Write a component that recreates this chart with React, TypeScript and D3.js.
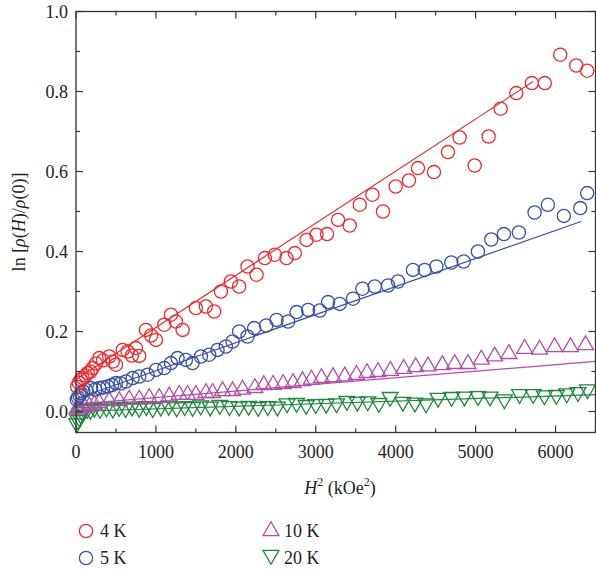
import React from 'react';
import * as d3 from 'd3';

// ---------- data ----------
const seriesNames = ['4 K', '5 K', '10 K', '20 K'];

const redX = [15, 35, 60, 84, 120, 146, 180, 209, 250, 291, 340, 416, 460, 500, 584, 646, 700, 750, 791, 875, 940, 1000, 1104, 1188, 1250, 1334, 1500, 1625, 1729, 1813, 1938, 2041, 2146, 2259, 2363, 2488, 2634, 2738, 2884, 3009, 3141, 3279, 3425, 3550, 3709, 3841, 4000, 4166, 4279, 4479, 4654, 4800, 4988, 5163, 5313, 5509, 5704, 5866, 6059, 6259, 6396];
const redY = [0.062, 0.072, 0.08, 0.0835, 0.09, 0.096, 0.1, 0.1085, 0.12, 0.1335, 0.128, 0.1375, 0.125, 0.117, 0.154, 0.15, 0.14, 0.1585, 0.139, 0.204, 0.19, 0.179, 0.217, 0.242, 0.225, 0.204, 0.2585, 0.2625, 0.25, 0.3, 0.325, 0.3125, 0.3625, 0.342, 0.3835, 0.392, 0.3835, 0.396, 0.429, 0.442, 0.4435, 0.479, 0.465, 0.517, 0.542, 0.5, 0.5625, 0.5775, 0.6085, 0.5985, 0.6485, 0.685, 0.615, 0.6875, 0.757, 0.796, 0.821, 0.821, 0.892, 0.865, 0.852];

const blueX = [10, 25, 45, 63, 90, 125, 188, 240, 291, 340, 396, 450, 500, 560, 625, 709, 791, 896, 1000, 1104, 1188, 1271, 1375, 1459, 1563, 1666, 1771, 1875, 1959, 2041, 2146, 2229, 2380, 2509, 2654, 2759, 2904, 3050, 3154, 3300, 3466, 3584, 3738, 3904, 4029, 4216, 4363, 4509, 4696, 4850, 5029, 5196, 5354, 5541, 5738, 5904, 6104, 6309, 6396];
const blueY = [0.03, 0.035, 0.04, 0.046, 0.05, 0.054, 0.0585, 0.055, 0.0585, 0.06, 0.0625, 0.066, 0.071, 0.07, 0.075, 0.0835, 0.0875, 0.092, 0.104, 0.1085, 0.121, 0.1335, 0.129, 0.121, 0.1375, 0.142, 0.154, 0.1625, 0.175, 0.2, 0.1875, 0.2085, 0.215, 0.229, 0.225, 0.2485, 0.254, 0.2525, 0.2735, 0.269, 0.282, 0.307, 0.3125, 0.315, 0.325, 0.354, 0.354, 0.3625, 0.3725, 0.375, 0.4, 0.43, 0.4435, 0.4475, 0.4975, 0.5167, 0.489, 0.5085, 0.546];

const magX = [10, 25, 42, 104, 167, 229, 291, 416, 541, 666, 791, 916, 1041, 1166, 1291, 1396, 1500, 1625, 1709, 1834, 1959, 2084, 2238, 2350, 2466, 2591, 2716, 2834, 2946, 3071, 3216, 3363, 3509, 3641, 3779, 3934, 4100, 4250, 4404, 4584, 4738, 4904, 5071, 5238, 5416, 5613, 5800, 5988, 6188, 6375];
const magY = [0.005, 0.008, 0.009, 0.0115, 0.013, 0.017, 0.0215, 0.026, 0.026, 0.03, 0.03, 0.034, 0.034, 0.038, 0.042, 0.042, 0.042, 0.0465, 0.0465, 0.051, 0.051, 0.055, 0.059, 0.066, 0.067, 0.069, 0.0715, 0.076, 0.08, 0.084, 0.086, 0.088, 0.092, 0.0965, 0.099, 0.102, 0.107, 0.111, 0.113, 0.116, 0.119, 0.119, 0.13, 0.138, 0.144, 0.157, 0.155, 0.161, 0.161, 0.166];

const grnX = [10, 25, 40, 60, 80, 105, 140, 180, 230, 300, 380, 460, 540, 620, 700, 790, 880, 960, 1060, 1160, 1260, 1360, 1460, 1560, 1680, 1800, 1920, 2040, 2160, 2280, 2400, 2520, 2640, 2760, 2880, 3000, 3130, 3260, 3390, 3520, 3650, 3790, 3930, 4090, 4240, 4380, 4530, 4700, 4860, 5030, 5180, 5360, 5550, 5720, 5860, 6010, 6140, 6280, 6400];
const grnY = [-0.03, -0.022, -0.015, -0.008, -0.002, 0.003, 0.006, 0.004, 0.009, 0.006, 0.01, 0.007, 0.011, 0.008, 0.012, 0.009, 0.013, 0.008, 0.012, 0.014, 0.01, 0.013, 0.011, 0.015, 0.012, 0.016, 0.013, 0.012, 0.014, 0.011, 0.013, 0.012, 0.02, 0.021, 0.016, 0.018, 0.019, 0.02, 0.026, 0.024, 0.025, 0.021, 0.036, 0.024, 0.022, 0.02, 0.034, 0.036, 0.037, 0.038, 0.037, 0.03, 0.043, 0.043, 0.04, 0.041, 0.045, 0.048, 0.055];

// linear fits (endpoints)
const redFitX = [0, 5720];
const redFitY = [0.08, 0.825];
const blueFitX = [0, 6320];
const blueFitY = [0.032, 0.475];
const magFitX = [0, 6500];
const magFitY = [0.0186, 0.1252];
const grnFitX = [0, 6500];
const grnFitY = [0.0, 0.042];

const xMajor = [0, 1000, 2000, 3000, 4000, 5000, 6000];
const xMinor = [500, 1500, 2500, 3500, 4500, 5500, 6500];
const yMajor = [0, 0.2, 0.4, 0.6, 0.8, 1.0];
const yMinor = [0.1, 0.3, 0.5, 0.7, 0.9];

// ---------- layout ----------
const W = 596;
const H = 570;
const left = 76;
const right = 595.5;
const top = 11.5;
const bottom = 432.5;

const RED = '#ee2b2e';
const BLUE = '#3a52a3';
const MAG = '#b24ea8';
const GRN = '#21873b';
const AX = '#333';
const FONT = '"Liberation Serif", "DejaVu Serif", serif';

export default function App() {
  const x = d3.scaleLinear().domain([0, 6500]).range([left, right]);
  const y = d3.scaleLinear().domain([-0.0525, 1.0]).range([bottom, top]);

  const triUp = d3.symbol(d3.symbolTriangle).size(110)() as string;

  const fitLine = (xs: number[], ys: number[]) =>
    d3.line<number>().x((_, i) => x(xs[i])).y((v) => y(v))(ys) as string;

  const circles = (xs: number[], ys: number[], color: string) =>
    xs.map((v, i) => (
      <circle key={i} cx={x(v)} cy={y(ys[i])} r={6.6} fill="none" stroke={color} strokeWidth={1.3} />
    ));
  const tris = (xs: number[], ys: number[], color: string, down: boolean) =>
    xs.map((v, i) => (
      <path
        key={i}
        d={triUp}
        transform={`translate(${x(v)},${y(ys[i])})${down ? ' rotate(180)' : ''}`}
        fill="none"
        stroke={color}
        strokeWidth={1.3}
      />
    ));

  const majLen = 7;
  const minLen = 4;

  return (
    <svg width={W} height={H} style={{ position: 'absolute', left: 0, top: 0, background: '#fff' }} fontFamily={FONT}>
      <rect x={0} y={0} width={W} height={H} fill="#fff" />
      {/* fit lines */}
      <path d={fitLine(grnFitX, grnFitY)} fill="none" stroke={GRN} strokeWidth={1.2} />
      <path d={fitLine(magFitX, magFitY)} fill="none" stroke={MAG} strokeWidth={1.2} />
      <path d={fitLine(blueFitX, blueFitY)} fill="none" stroke={BLUE} strokeWidth={1.2} />
      <path d={fitLine(redFitX, redFitY)} fill="none" stroke={RED} strokeWidth={1.2} />

      {/* markers */}
      <g>{tris(grnX, grnY, GRN, true)}</g>
      <g>{tris(magX, magY, MAG, false)}</g>
      <g>{circles(blueX, blueY, BLUE)}</g>
      <g>{circles(redX, redY, RED)}</g>

      {/* frame */}
      <rect x={left} y={top} width={right - left} height={bottom - top} fill="none" stroke={AX} strokeWidth={1.3} />

      {/* x ticks */}
      {xMajor.map((v) => (
        <g key={'xm' + v}>
          <line x1={x(v)} x2={x(v)} y1={bottom} y2={bottom - majLen} stroke={AX} strokeWidth={1.2} />
          <line x1={x(v)} x2={x(v)} y1={top} y2={top + majLen} stroke={AX} strokeWidth={1.2} />
          <text x={x(v)} y={458} textAnchor="middle" fontSize={18} fill="#222">
            {v}
          </text>
        </g>
      ))}
      {xMinor.map((v) => (
        <g key={'xn' + v}>
          <line x1={x(v)} x2={x(v)} y1={bottom} y2={bottom - minLen} stroke={AX} strokeWidth={1.2} />
          <line x1={x(v)} x2={x(v)} y1={top} y2={top + minLen} stroke={AX} strokeWidth={1.2} />
        </g>
      ))}
      {/* y ticks */}
      {yMajor.map((v) => (
        <g key={'ym' + v}>
          <line x1={left} x2={left + majLen} y1={y(v)} y2={y(v)} stroke={AX} strokeWidth={1.2} />
          <line x1={right} x2={right - majLen} y1={y(v)} y2={y(v)} stroke={AX} strokeWidth={1.2} />
          <text x={68} y={y(v) + 6} textAnchor="end" fontSize={18} fill="#222">
            {d3.format('.1f')(v)}
          </text>
        </g>
      ))}
      {yMinor.map((v) => (
        <g key={'yn' + v}>
          <line x1={left} x2={left + minLen} y1={y(v)} y2={y(v)} stroke={AX} strokeWidth={1.2} />
          <line x1={right} x2={right - minLen} y1={y(v)} y2={y(v)} stroke={AX} strokeWidth={1.2} />
        </g>
      ))}

      {/* axis titles */}
      <text x={340} y={494} textAnchor="middle" fontSize={18} fill="#222">
        <tspan fontStyle="italic">H</tspan>
        <tspan fontSize={12} dy={-8}>2</tspan>
        <tspan dy={8}> (kOe</tspan>
        <tspan fontSize={12} dy={-8}>2</tspan>
        <tspan dy={8}>)</tspan>
      </text>
      <text transform="translate(25,222) rotate(-90)" textAnchor="middle" fontSize={18} fill="#222">
        <tspan>ln [</tspan>
        <tspan fontStyle="italic">ρ</tspan>
        <tspan>(</tspan>
        <tspan fontStyle="italic">H</tspan>
        <tspan>)/</tspan>
        <tspan fontStyle="italic">ρ</tspan>
        <tspan>(0)]</tspan>
      </text>

      {/* legend */}
      <g>
        <circle cx={86} cy={531} r={6.6} fill="none" stroke={RED} strokeWidth={1.3} />
        <text x={100} y={537} fontSize={18} fill="#222">{seriesNames[0]}</text>
        <circle cx={86} cy={558} r={6.6} fill="none" stroke={BLUE} strokeWidth={1.3} />
        <text x={100} y={564} fontSize={18} fill="#222">{seriesNames[1]}</text>
        <path d={triUp} transform="translate(271,531)" fill="none" stroke={MAG} strokeWidth={1.3} />
        <text x={284} y={537} fontSize={18} fill="#222">{seriesNames[2]}</text>
        <path d={triUp} transform="translate(271,555) rotate(180)" fill="none" stroke={GRN} strokeWidth={1.3} />
        <text x={284} y={564} fontSize={18} fill="#222">{seriesNames[3]}</text>
      </g>
    </svg>
  );
}
